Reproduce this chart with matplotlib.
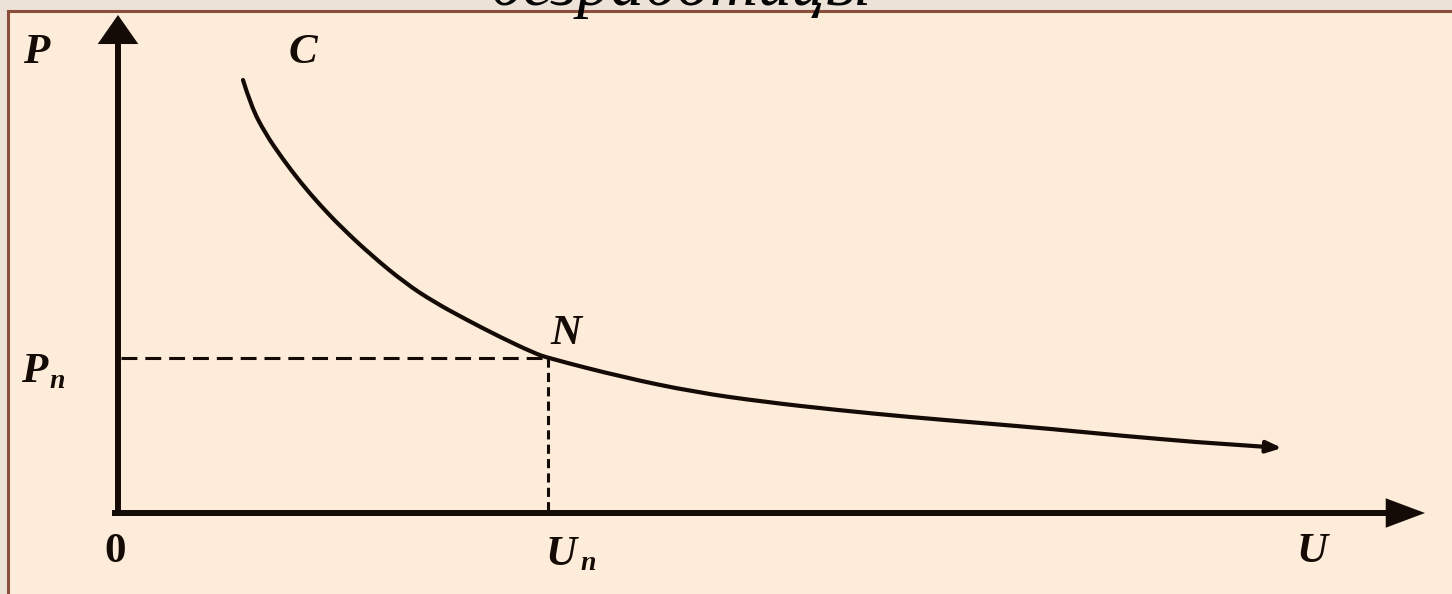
import matplotlib
matplotlib.use('Agg')
import matplotlib.pyplot as plt
from matplotlib.patches import Rectangle, FancyArrowPatch, PathPatch
from matplotlib.path import Path

# curve C
curve_u = [1.25, 1.33, 1.47, 1.64, 1.83, 2.02, 2.23, 2.53, 2.87, 3.16, 3.49, 3.82, 4.16, 4.30,
           5.04, 5.76, 6.47, 7.19, 7.91, 8.63, 9.34, 10.06, 10.78, 11.64]
curve_p = [4.33, 4.07, 3.80, 3.55, 3.30, 3.08, 2.86, 2.58, 2.30, 2.11, 1.93, 1.76, 1.60, 1.55,
           1.36, 1.21, 1.11, 1.03, 0.96, 0.90, 0.84, 0.77, 0.71, 0.65]

# natural rate point N
u_n = 4.30
p_n = 1.55

title = 'безработицы'

ink = '#140b06'
bg_in = '#fdecd9'
bg_out = '#ece2d7'
frame = '#8a4f3c'

fig = plt.figure(figsize=(14.52, 5.94), dpi=100, facecolor=bg_out)

# slide frame
fig.patches.append(Rectangle((8/1452, -0.05), 1.1, 1.05 - 11/594, transform=fig.transFigure,
                             facecolor=bg_in, edgecolor=frame, lw=2.2, zorder=-5))

ax = fig.add_axes([0, 0, 1, 1])
ax.set_zorder(2)
ax.set_xlim(-1.18, 13.34)
ax.set_ylim(-0.81, 5.13)
ax.axis('off')
ax.patch.set_alpha(0)

# axes with arrows
ax.add_patch(FancyArrowPatch((-0.06, 0), (13.07, 0), arrowstyle='-|>,head_length=2.0,head_width=0.75',
                             mutation_scale=10, lw=4.3, color=ink, shrinkA=0, shrinkB=0,
                             joinstyle='miter', capstyle='butt'))
ax.add_patch(FancyArrowPatch((0, -0.03), (0, 4.98), arrowstyle='-|>,head_length=1.5,head_width=1.05',
                             mutation_scale=10, lw=4.3, color=ink, shrinkA=0, shrinkB=0,
                             joinstyle='miter', capstyle='butt'))

# dashed guides
ax.plot([0.03, u_n], [p_n, p_n], color=ink, lw=2.2, dashes=(5.2, 2.6))
ax.plot([u_n, u_n], [p_n, 0.03], color=ink, lw=2.2, dashes=(3.0, 1.7))

# curve: smooth path with the read points as quadratic control points
pts = list(zip(curve_u[:-1], curve_p[:-1]))
verts = [pts[0]]
codes = [Path.MOVETO]
for i in range(1, len(pts) - 1):
    mid = ((pts[i][0] + pts[i + 1][0]) / 2, (pts[i][1] + pts[i + 1][1]) / 2)
    verts += [pts[i], mid]
    codes += [Path.CURVE3, Path.CURVE3]
verts.append(pts[-1])
codes.append(Path.LINETO)
ax.add_patch(PathPatch(Path(verts, codes), facecolor='none', edgecolor=ink, lw=3.0,
                       capstyle='round', joinstyle='round'))
ax.add_patch(FancyArrowPatch((curve_u[-2], curve_p[-2]), (curve_u[-1], curve_p[-1]),
                             arrowstyle='-|>,head_length=0.9,head_width=0.35', mutation_scale=10,
                             lw=3.0, color=ink, shrinkA=0, shrinkB=0))

lab = dict(family='Liberation Serif', style='italic', weight='bold', fontsize=31, color=ink,
           ha='center', va='center')
sub = dict(family='Liberation Serif', style='italic', weight='bold', fontsize=20, color=ink,
           ha='center', va='center')

ax.text(-0.82, 4.60, 'P', **lab)
ax.text(curve_u[0] + 0.60, 4.60, 'C', **lab)
ax.text(-0.84, p_n - 0.14, 'P', **lab)
ax.text(-0.61, p_n - 0.24, 'n', **sub)
ax.text(u_n + 0.18, p_n + 0.24, 'N', **lab)
ax.text(-0.03, -0.39, '0', family='Liberation Serif', weight='bold', fontsize=31, color=ink,
        ha='center', va='center')
ax.text(u_n + 0.13, -0.42, 'U', **lab)
ax.text(u_n + 0.40, -0.50, 'n', **sub)
ax.text(11.94, -0.39, 'U', **lab)

# cut-off slide title
fig.text(680/1452, 1 - 5/594, title, family='Liberation Serif', style='italic', fontsize=48,
         color='#050505', ha='center', va='baseline', zorder=5)

fig.savefig('out.png', dpi=100, facecolor=bg_out)
